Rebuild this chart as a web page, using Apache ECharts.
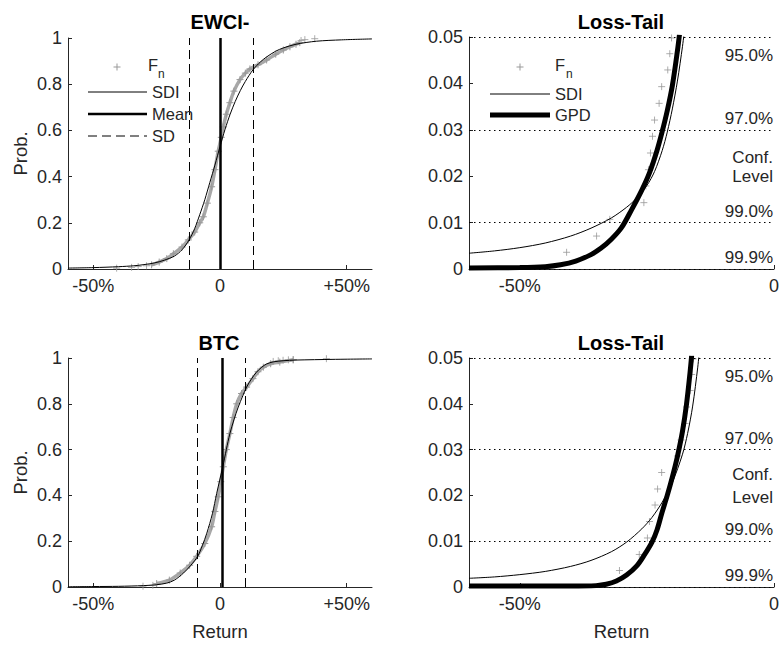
<!DOCTYPE html>
<html><head><meta charset="utf-8">
<script src="https://cdn.jsdelivr.net/npm/echarts@6/dist/echarts.min.js"></script>
<style>html,body{margin:0;padding:0;background:#fff}#c{width:783px;height:645px}</style>
</head><body><div id="c"></div>
<script>
// ---------- tick labels / annotation values ----------
const cdfXTickVals = [-0.5, 0, 0.5];
const cdfXTickLabels = ['-50%', '0', '+50%'];
const tailXTickVals = [-0.5, 0];
const tailXTickLabels = ['-50%', '0'];
const cdfYTickLabels = ['0', '0.2', '0.4', '0.6', '0.8', '1'];
const tailYTickLabels = ['0', '0.01', '0.02', '0.03', '0.04', '0.05'];
const confLevels = [0.05, 0.03, 0.01, 0.001];
const confLabels = ['95.0%', '97.0%', '99.0%', '99.9%'];
const panelTitles = ['EWCI-', 'Loss-Tail', 'BTC', 'Loss-Tail'];

// ---------- EWCI- : full distribution ----------
const ewciSdiX = [-0.6, -0.5, -0.4, -0.34, -0.3, -0.26, -0.22, -0.18, -0.15, -0.122, -0.1, -0.08, -0.06, -0.04, -0.02, 0, 0.02, 0.04, 0.06, 0.08, 0.1, 0.13, 0.16, 0.184, 0.22, 0.25, 0.3, 0.38, 0.48, 0.6];
const ewciSdiY = [0.004, 0.006, 0.010, 0.014, 0.019, 0.026, 0.038, 0.056, 0.083, 0.126, 0.175, 0.235, 0.30, 0.375, 0.45, 0.53, 0.605, 0.67, 0.725, 0.772, 0.812, 0.862, 0.897, 0.918, 0.943, 0.957, 0.973, 0.986, 0.992, 0.996];
const ewciBandX = [-0.27, -0.24, -0.21, -0.184, -0.15, -0.125, -0.1, -0.08, -0.066, -0.05, -0.033, -0.02, -0.007, 0.005, 0.013, 0.025, 0.039, 0.055, 0.079, 0.1, 0.118, 0.15, 0.184, 0.22, 0.25, 0.276, 0.3, 0.315];
const ewciBandY = [0.018, 0.03, 0.045, 0.066, 0.095, 0.126, 0.16, 0.2, 0.226, 0.285, 0.356, 0.43, 0.51, 0.57, 0.615, 0.67, 0.72, 0.77, 0.82, 0.848, 0.866, 0.884, 0.905, 0.93, 0.948, 0.962, 0.973, 0.98];
const ewciTailFnX = [-0.408, -0.349, -0.323, -0.29, 0.32, 0.335, 0.374];
const ewciTailFnY = [0.0036, 0.0071, 0.0107, 0.014, 0.989, 0.993, 0.997];
const ewciMean = [0.001];
const ewciSdLines = [-0.122, 0.130];

// ---------- EWCI- : loss tail ----------
const ewciLtSdiX = [-0.6, -0.55, -0.5, -0.45, -0.4, -0.36, -0.32, -0.29, -0.27, -0.25, -0.235, -0.22, -0.21, -0.2, -0.19, -0.18, -0.175];
const ewciLtSdiY = [0.0034, 0.0039, 0.0046, 0.0056, 0.0071, 0.0088, 0.0110, 0.0133, 0.0153, 0.0180, 0.0210, 0.0255, 0.0295, 0.0345, 0.0405, 0.0480, 0.0525];
const ewciGpdX = [-0.6, -0.5, -0.45, -0.42, -0.39, -0.36, -0.34, -0.32, -0.3, -0.28, -0.26, -0.245, -0.23, -0.22, -0.21, -0.2, -0.19, -0.186];
const ewciGpdY = [0.0002, 0.0003, 0.0005, 0.0009, 0.0017, 0.0031, 0.0045, 0.0064, 0.0089, 0.0128, 0.0170, 0.0207, 0.0256, 0.0296, 0.0341, 0.0395, 0.0470, 0.0505];
const ewciLtFnX = [-0.408, -0.349, -0.323, -0.256, -0.252, -0.247, -0.243, -0.239, -0.235, -0.226, -0.221, -0.209, -0.205, -0.2015];
const ewciLtFnY = [0.0036, 0.0071, 0.0107, 0.0143, 0.0179, 0.0214, 0.025, 0.0286, 0.0321, 0.0357, 0.0393, 0.0429, 0.0464, 0.0498];

// ---------- BTC : full distribution ----------
const btcSdiX = [-0.6, -0.5, -0.4, -0.302, -0.25, -0.21, -0.18, -0.144, -0.115, -0.088, -0.07, -0.052, -0.03, -0.013, 0.011, 0.025, 0.039, 0.055, 0.072, 0.09, 0.105, 0.125, 0.144, 0.165, 0.184, 0.21, 0.249, 0.3, 0.446, 0.6];
const btcSdiY = [0.001, 0.002, 0.003, 0.006, 0.01, 0.017, 0.03, 0.061, 0.095, 0.134, 0.18, 0.235, 0.32, 0.409, 0.525, 0.60, 0.67, 0.73, 0.786, 0.835, 0.873, 0.91, 0.938, 0.96, 0.974, 0.983, 0.988, 0.991, 0.994, 0.996];
const btcBandX = [-0.25, -0.2, -0.157, -0.12, -0.092, -0.06, -0.033, -0.02, -0.007, 0.003, 0.013, 0.025, 0.039, 0.052, 0.066, 0.085, 0.105, 0.13, 0.15, 0.171, 0.2, 0.236, 0.289];
const btcBandY = [0.015, 0.03, 0.061, 0.095, 0.134, 0.19, 0.263, 0.33, 0.394, 0.46, 0.525, 0.6, 0.67, 0.74, 0.8, 0.845, 0.873, 0.91, 0.94, 0.96, 0.975, 0.982, 0.992];
const btcTailFnX = [-0.304, -0.265, 0.21, 0.23, 0.249, 0.27, 0.289, 0.42];
const btcTailFnY = [0.0036, 0.0071, 0.985, 0.988, 0.99, 0.992, 0.993, 0.997];
const btcMean = [0.008];
const btcSdLines = [-0.088, 0.105];

// ---------- BTC : loss tail ----------
const btcLtSdiX = [-0.6, -0.55, -0.5, -0.45, -0.4, -0.36, -0.32, -0.29, -0.26, -0.24, -0.22, -0.2, -0.18, -0.17, -0.16, -0.15, -0.146];
const btcLtSdiY = [0.0019, 0.0022, 0.0027, 0.0034, 0.0045, 0.0058, 0.0077, 0.0098, 0.0127, 0.0152, 0.0185, 0.0228, 0.0290, 0.0335, 0.0395, 0.0480, 0.0525];
const btcGpdX = [-0.6, -0.4, -0.35, -0.33, -0.31, -0.29, -0.27, -0.255, -0.24, -0.23, -0.221, -0.21, -0.2, -0.19, -0.18, -0.172, -0.165, -0.162];
const btcGpdY = [0.0002, 0.0002, 0.0003, 0.0006, 0.0013, 0.0026, 0.0046, 0.0070, 0.0098, 0.0125, 0.0160, 0.0200, 0.0240, 0.0285, 0.0340, 0.0400, 0.0470, 0.0505];
const btcLtFnX = [-0.304, -0.265, -0.249, -0.245, -0.234, -0.229, -0.221, -0.19, -0.183, -0.175, -0.172, -0.165, -0.162, -0.159];
const btcLtFnY = [0.0036, 0.0071, 0.0107, 0.0143, 0.0179, 0.0214, 0.025, 0.0286, 0.0321, 0.0357, 0.0393, 0.0429, 0.0464, 0.0498];

// ---------- build ----------
const FONT = '"Liberation Sans", Arial, Helvetica, sans-serif';
const AX = '#262626';
const PLUS = 'path://M0,-1L0,1M-1,0L1,0';
const zip = (xs, ys) => xs.map((x, i) => [x, ys[i]]);
const pick = (vals, labels) => v => { const i = vals.findIndex(t => Math.abs(t - v) < 1e-9); return i < 0 ? '' : labels[i]; };

const grids = [
  { left: 68, top: 38, width: 304, height: 231 },
  { left: 469, top: 37, width: 305, height: 232 },
  { left: 68, top: 358, width: 304, height: 229 },
  { left: 469, top: 358, width: 305, height: 229 }
];

function xAx(g, min, max, vals, labels, name) {
  return {
    type: 'value', gridIndex: g, min: min, max: max,
    axisLine: { show: true, onZero: false, lineStyle: { color: AX, width: 1 } },
    axisTick: { show: true, inside: true, length: 4, customValues: vals, lineStyle: { color: AX } },
    axisLabel: { customValues: vals, formatter: pick(vals, labels), fontSize: 18, color: AX, fontFamily: FONT, margin: 8 },
    splitLine: { show: false },
    name: name || '', nameLocation: 'middle', nameGap: 35,
    nameTextStyle: { fontSize: 18.5, color: AX, fontFamily: FONT }
  };
}
function yAx(g, max, interval, labels, name) {
  return {
    type: 'value', gridIndex: g, min: 0, max: max, interval: interval,
    axisLine: { show: true, onZero: false, lineStyle: { color: AX, width: 1 } },
    axisTick: { show: true, inside: true, length: 4, lineStyle: { color: AX } },
    axisLabel: { formatter: v => labels[Math.round(v / interval)], fontSize: 18, color: AX, fontFamily: FONT, margin: 6 },
    splitLine: { show: false },
    name: name || '', nameLocation: 'middle', nameGap: 38,
    nameTextStyle: { fontSize: 18.5, color: AX, fontFamily: FONT }
  };
}

const plusStyle = { color: '#999', borderColor: '#999', borderWidth: 1 };

function cdfSeries(g, sdiX, sdiY, bandX, bandY, tailX, tailY, mean, sds) {
  return [
    { type: 'line', xAxisIndex: g, yAxisIndex: g, data: zip(bandX, bandY), symbol: PLUS, symbolSize: 7, showAllSymbol: true,
      smooth: 0.3, itemStyle: plusStyle, lineStyle: { color: '#a8a8a8', width: 3.5 }, z: 2, silent: true },
    { type: 'scatter', xAxisIndex: g, yAxisIndex: g, data: zip(tailX, tailY), symbol: PLUS, symbolSize: 7, itemStyle: plusStyle, z: 2, silent: true },
    { type: 'line', xAxisIndex: g, yAxisIndex: g, data: zip(sdiX, sdiY), symbol: 'none', smooth: 0.3,
      lineStyle: { color: '#000', width: 1 }, z: 3, silent: true,
      markLine: { silent: true, symbol: 'none', label: { show: false }, animation: false,
        data: [
          { xAxis: mean[0], lineStyle: { color: '#000', width: 2.5, type: 'solid' } },
          { xAxis: sds[0], lineStyle: { color: '#000', width: 1, type: [9, 5] } },
          { xAxis: sds[1], lineStyle: { color: '#000', width: 1, type: [9, 5] } }
        ] } }
  ];
}
function tailSeries(g, fnX, fnY, sdiX, sdiY, gpdX, gpdY) {
  return [
    { type: 'line', xAxisIndex: g, yAxisIndex: g, data: [], silent: true,
      markLine: { silent: true, symbol: 'none', animation: false,
        lineStyle: { color: '#000', width: 1, type: [1.5, 3.5] },
        data: confLevels.map((v, i) => ({ yAxis: v,
          label: { show: true, formatter: confLabels[i], position: i === 0 ? 'insideEndBottom' : 'insideEndTop',
            distance: i === 0 ? [1, 10] : [1, 3], fontSize: 17, color: AX, fontFamily: FONT } })) } },
    { type: 'scatter', xAxisIndex: g, yAxisIndex: g, data: zip(fnX, fnY), symbol: PLUS, symbolSize: 7, itemStyle: plusStyle, z: 2, silent: true },
    { type: 'line', xAxisIndex: g, yAxisIndex: g, data: zip(gpdX, gpdY), symbol: 'none', smooth: 0.3,
      lineStyle: { color: '#000', width: 5 }, z: 3, silent: true },
    { type: 'line', xAxisIndex: g, yAxisIndex: g, data: zip(sdiX, sdiY), symbol: 'none', smooth: 0.3,
      lineStyle: { color: '#000', width: 1 }, z: 4, silent: true }
  ];
}

function txt(x, y, s, size, opts) {
  opts = opts || {};
  return { type: 'text', x: x, y: y, silent: true, z: 100,
    style: { text: s, font: (opts.bold ? 'bold ' : '') + size + 'px ' + FONT, fill: opts.fill || AX,
      align: opts.align || 'left', verticalAlign: 'middle', textAlign: opts.align || 'left', textVerticalAlign: 'middle' } };
}
function hline(x1, x2, y, w, dash) {
  return { type: 'line', silent: true, z: 100, shape: { x1: x1, y1: y, x2: x2, y2: y },
    style: { stroke: '#000', lineWidth: w, lineDash: dash || null } };
}
function plusG(x, y) {
  return { type: 'group', silent: true, z: 100, children: [
    { type: 'line', shape: { x1: x - 3.5, y1: y, x2: x + 3.5, y2: y }, style: { stroke: '#999', lineWidth: 1 } },
    { type: 'line', shape: { x1: x, y1: y - 3.5, x2: x, y2: y + 3.5 }, style: { stroke: '#999', lineWidth: 1 } }
  ] };
}

const graphics = [
  txt(220, 22, panelTitles[0], 20, { bold: true, align: 'center', fill: '#000' }),
  txt(621, 22, panelTitles[1], 20, { bold: true, align: 'center', fill: '#000' }),
  txt(219, 343, panelTitles[2], 20, { bold: true, align: 'center', fill: '#000' }),
  txt(621, 343, panelTitles[3], 20, { bold: true, align: 'center', fill: '#000' }),
  // legend top-left
  plusG(117, 67), txt(148, 65, 'F', 16.5), txt(158, 74, 'n', 12),
  hline(88, 147, 92, 1), txt(152, 92, 'SDI', 16.5),
  hline(88, 147, 114, 2.5), txt(152, 114, 'Mean', 16.5),
  hline(88, 147, 136, 1, [9, 5]), txt(152, 136, 'SD', 16.5),
  // legend top-right
  plusG(520, 67), txt(555, 65, 'F', 16.5), txt(566, 74, 'n', 12),
  hline(490, 550, 94, 1), txt(555, 94, 'SDI', 16.5),
  hline(490, 550, 115, 5), txt(555, 115, 'GPD', 16.5),
  // confidence-level captions
  txt(773, 157, 'Conf.', 17, { align: 'right' }), txt(773, 176, 'Level', 17, { align: 'right' }),
  txt(773, 474, 'Conf.', 17, { align: 'right' }), txt(773, 497, 'Level', 17, { align: 'right' })
];

const option = {
  animation: false,
  backgroundColor: '#fff',
  textStyle: { fontFamily: FONT },
  grid: grids,
  xAxis: [
    xAx(0, -0.6, 0.6, cdfXTickVals, cdfXTickLabels),
    xAx(1, -0.6, 0, tailXTickVals, tailXTickLabels),
    xAx(2, -0.6, 0.6, cdfXTickVals, cdfXTickLabels, 'Return'),
    xAx(3, -0.6, 0, tailXTickVals, tailXTickLabels, 'Return')
  ],
  yAxis: [
    yAx(0, 1, 0.2, cdfYTickLabels, 'Prob.'),
    yAx(1, 0.05, 0.01, tailYTickLabels),
    yAx(2, 1, 0.2, cdfYTickLabels, 'Prob.'),
    yAx(3, 0.05, 0.01, tailYTickLabels)
  ],
  series: [].concat(
    cdfSeries(0, ewciSdiX, ewciSdiY, ewciBandX, ewciBandY, ewciTailFnX, ewciTailFnY, ewciMean, ewciSdLines),
    tailSeries(1, ewciLtFnX, ewciLtFnY, ewciLtSdiX, ewciLtSdiY, ewciGpdX, ewciGpdY),
    cdfSeries(2, btcSdiX, btcSdiY, btcBandX, btcBandY, btcTailFnX, btcTailFnY, btcMean, btcSdLines),
    tailSeries(3, btcLtFnX, btcLtFnY, btcLtSdiX, btcLtSdiY, btcGpdX, btcGpdY)
  ),
  graphic: graphics
};

const chart = echarts.init(document.getElementById('c'), null, { renderer: 'svg', width: 783, height: 645 });
chart.setOption(option);
</script>
</body></html>
